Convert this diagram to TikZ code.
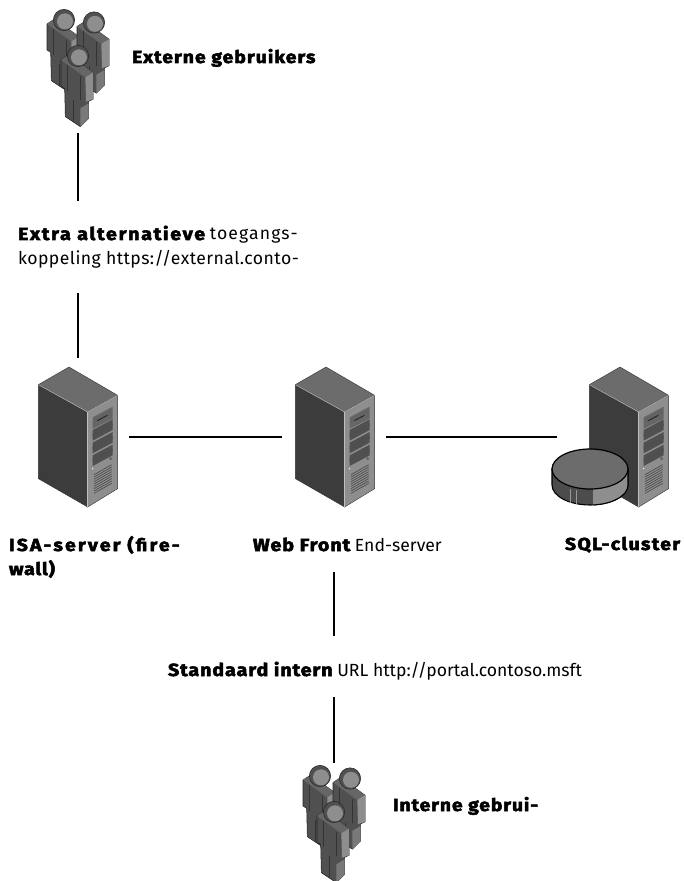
\documentclass[tikz,border=0pt]{standalone}
\usepackage{fontspec}
\setmainfont{Fira Sans}
\newfontfamily\heavy{Fira Sans}[UprightFont=* Bold,FakeBold=3,FakeStretch=1.12]
\newcommand{\lsp}[2]{{\addfontfeature{LetterSpace=#1}#2}}
\definecolor{sL}{HTML}{3C3C3C}
\definecolor{sT}{HTML}{6C6C6C}
\definecolor{sF}{HTML}{8E8E8E}
\definecolor{sB}{HTML}{4C4C4C}
\definecolor{pD}{HTML}{505050}
\definecolor{pM}{HTML}{666666}
\definecolor{pL}{HTML}{8E8E8E}
\tikzset{
  conn/.style={draw=black,line width=1.6pt},
  slot/.style={inner sep=0pt,outer sep=0pt,draw=none},
  label/.style={inner xsep=0pt,inner ysep=0pt,outer sep=0pt,font=\fontsize{13.2pt}{18.4pt}\selectfont,align=left},
  strong/.style={font=\fontsize{13pt}{18pt}\heavy}
}
\newcommand{\srv}[2]{%
\begin{scope}[shift={(#1,#2)},x=.25pt,y=-.25pt,shift={(-147,-37)}]
 \fill[sL,draw=black!80,line width=.3pt] (55,90)--(203,172)--(203,457)--(55,372)--cycle;
 \fill[sT,draw=black!80,line width=.3pt] (147,37)--(293,122)--(203,172)--(55,90)--cycle;
 \fill[sF,draw=black!80,line width=.3pt] (203,172)--(293,122)--(293,402)--(203,457)--cycle;
 \draw[white!75!black,line width=.4pt] (55,90)--(203,172)--(293,122);
 \draw[white!75!black,line width=.4pt] (203,172)--(203,457);
 \fill[pM] (218,188)--(278,156)--(278,192)--(218,222)--cycle;
 \fill[pL!70!black] (222,192)--(274,164)--(274,176)--(222,204)--cycle;
 \draw[black!85,line width=.7pt] (232,198)--(262,182);
 \foreach \d in {0,38,76}{
  \fill[pD] (218,226+\d)--(278,194+\d)--(278,226+\d)--(218,258+\d)--cycle;
  \fill[pM!115!white] (218,238+\d)--(278,206+\d)--(278,214+\d)--(218,246+\d)--cycle;
 }
 \fill[pM] (272,312) circle (5);
 \fill[white] (218,342) circle (2);
 \foreach \k in {0,...,8}{
  \draw[black!70,line width=.5pt] (222,360+7*\k)--(275,330+7*\k);
 }
\end{scope}}
\newcommand{\person}[2]{%
\begin{scope}[shift={(#1,#2)},x=.25pt,y=-.25pt,shift={(-143,-168)}]
 \fill[pD,draw=black!85,line width=.4pt] (92,180)--(115,165)--(188,218)--(188,298)--(175,304)--(175,355)--(150,380)--(105,350)--(103,265)--(92,258)--cycle;
 \fill[pM] (92,180)--(115,165)--(188,218)--(165,232)--cycle;
 \fill[pL] (165,232)--(188,218)--(188,298)--(167,305)--cycle;
 \fill[pL!85!black] (150,325)--(175,310)--(175,355)--(150,380)--cycle;
 \draw[black!80,line width=.35pt] (112,195)--(112,272) (150,228)--(150,300) (128,300)--(128,365);
 \fill[pD,draw=black!85,line width=.4pt] (143,168) circle (32);
 \fill[pL] (146,172) circle (24);
\end{scope}}
\newcommand{\group}[2]{%
\begin{scope}[shift={(#1,#2)}]
 \person{-14}{-36}
 \person{16}{-33.5}
 \person{0}{0}
\end{scope}}
\begin{document}
\begin{tikzpicture}[x=.75pt,y=-.75pt]
\useasboundingbox (0,0) rectangle (684,881);
% figures
\group{78}{56}
\srv{69}{367}
\srv{326}{367}
\srv{620}{367}
\group{334}{812}
% database disc
\fill[sB,draw=black,line width=.8pt] (552,469) -- (552,485) arc[start angle=180,end angle=0,x radius=38,y radius=20] -- (628,469) -- cycle;
\begin{scope}
 \clip (593,469) rectangle (630,510);
 \fill[pL,draw=black,line width=.8pt] (552,469) -- (552,485) arc[start angle=180,end angle=0,x radius=38,y radius=20] -- (628,469) -- cycle;
\end{scope}
\draw[white!60!black,line width=.4pt] (570.7,489)--(570.7,503) (576.7,490)--(576.7,504);
\fill[sT,draw=black,line width=.9pt] (590,469) ellipse[x radius=38,y radius=20];
% anchors for connectors
\node[slot,minimum width=48pt,minimum height=100.5pt] (ext) at (78,66) {};
\node[slot,minimum width=76.5pt,minimum height=118.5pt] (isa) at (78,437) {};
\node[slot,minimum width=78pt,minimum height=118.5pt] (web) at (334,437) {};
\node[slot,minimum width=92pt,minimum height=118.5pt] (sql) at (618.5,437) {};
\node[slot,minimum width=48pt,minimum height=88pt] (int) at (334,822) {};
% labels
\node[label,strong,anchor=base west] (extl) at (132,63) {\lsp{5.8}{Externe gebruikers}};
\node[label,anchor=west,minimum height=69pt] (alt) at (18,247) {{\heavy\lsp{9.6}{Extra alternatieve}} \lsp{6.4}{toegangs-}\\\lsp{2.6}{koppeling https://external.conto-}};
\node[label,strong,anchor=base west] (isal) at (9,575) {\lsp{12.5}{ISA-server (fire-}\\\lsp{5}{wall)}};
\node[label,anchor=base west,text height=19pt,text depth=16pt] (webl) at (253,551) {{\heavy\lsp{5.5}{Web Front}} End-server};
\node[label,strong,anchor=base west] (sqll) at (565,550) {\lsp{7.8}{SQL-cluster}};
\node[label,anchor=base west,text height=30pt,text depth=15.75pt] (std) at (168,676) {{\heavy\lsp{5}{Standaard intern}} URL http://portal.contoso.msft};
\node[label,strong,anchor=base west] (intl) at (393,811) {\lsp{5}{Interne gebrui-}};
% connectors
\draw[conn] (ext.south) -- (ext.south |- alt.north);
\draw[conn] (ext.south |- alt.south) -- (isa.north);
\draw[conn] (isa.east) -- (web.west);
\draw[conn] (web.east) -- (sql.west);
\draw[conn] (web.south |- webl.south) -- (web.south |- std.north);
\draw[conn] (web.south |- std.south) -- (int.north);
\end{tikzpicture}
\end{document}
